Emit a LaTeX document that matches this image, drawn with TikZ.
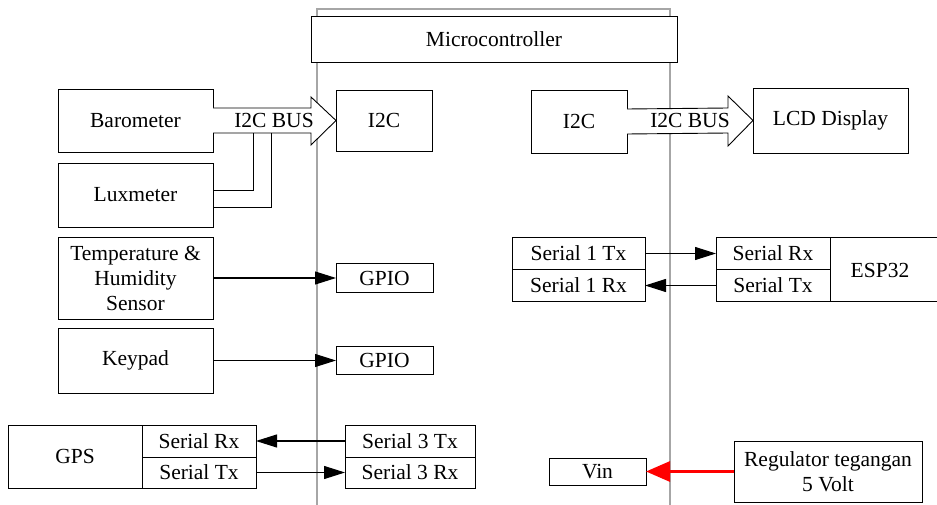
\documentclass[tikz,border=0pt]{standalone}
\usepackage{fontspec}
\setmainfont{Liberation Serif}
\usetikzlibrary{arrows.meta,calc}
\begin{document}
\begin{tikzpicture}[x=1pt,y=-1pt,
  box/.style={draw,line width=0.9pt,inner sep=0pt,outer sep=0pt,align=center,
    font=\fontsize{21.5}{25}\selectfont},
  conn/.style={line width=1.1pt,-{Triangle[length=21pt,width=13pt]}},
  busarrow/.style={draw,line width=0.9pt,fill=white},
  lbl/.style={font=\fontsize{21.5}{25}\selectfont,inner sep=0pt}]
\useasboundingbox (0,0) rectangle (937,505);
% microcontroller outline
\draw[gray!70,line width=1.4pt] (317,505) |- (670,9) -- (670,505);
\node[box,fill=white,minimum width=366pt,minimum height=46pt] (micro) at (494,39) {Microcontroller};
% left side devices
\node[box,minimum width=155pt,minimum height=63pt] (baro) at (135.5,120.5) {Barometer};
\node[box,minimum width=155pt,minimum height=64pt] (lux) at (135.5,195) {Luxmeter};
\node[box,minimum width=155pt,minimum height=82pt] (temp) at (135.5,278) {Temperature \&\\Humidity\\Sensor};
\node[box,minimum width=155pt,minimum height=65pt] (keypad) at (135.5,360.5) {Keypad};
\node[box,minimum width=134pt,minimum height=63pt] (gps) at (75,456.5) {GPS};
\node[box,minimum width=114pt,minimum height=32pt] (gpsrx) at (199,441) {Serial Rx};
\node[box,minimum width=114pt,minimum height=31pt] (gpstx) at (199,472.5) {Serial Tx};
% left microcontroller pins
\node[box,minimum width=96pt,minimum height=61pt] (i2cl) at (384,120.5) {I2C};
\node[box,minimum width=97pt,minimum height=29pt] (gpio1) at (384.5,278) {GPIO};
\node[box,minimum width=97pt,minimum height=28pt] (gpio2) at (384.5,360.5) {GPIO};
\node[box,minimum width=130pt,minimum height=32pt] (s3tx) at (410,441) {Serial 3 Tx};
\node[box,minimum width=130pt,minimum height=31pt] (s3rx) at (410,472.5) {Serial 3 Rx};
% right microcontroller pins
\node[box,minimum width=96pt,minimum height=63pt] (i2cr) at (579,121.5) {I2C};
\node[box,minimum width=133pt,minimum height=32pt] (s1tx) at (578.5,253.5) {Serial 1 Tx};
\node[box,minimum width=133pt,minimum height=32pt] (s1rx) at (578.5,285.5) {Serial 1 Rx};
\node[box,minimum width=97pt,minimum height=27pt] (vin) at (597.5,471.5) {Vin};
% right devices
\node[box,minimum width=155pt,minimum height=65pt] (lcd) at (830.5,120.5) {LCD Display};
\node[box,minimum width=114pt,minimum height=32pt] (esprx) at (773,253.5) {Serial Rx};
\node[box,minimum width=114pt,minimum height=32pt] (esptx) at (773,285.5) {Serial Tx};
\node[lbl] (esp) at (880,270) {ESP32};
\draw[line width=0.9pt] (esprx.north east) -- (945,237.5);
\draw[line width=0.9pt] (esptx.south east) -- (945,301.5);
\node[box,minimum width=188pt,minimum height=61pt] (reg) at (828,471.5) {Regulator tegangan\\5 Volt};
% I2C bus arrows
\draw[busarrow] ($(baro.east)+(0,-12.5)$) -- ($(i2cl.west)+(-25,-12.5)$) -- ($(i2cl.west)+(-25,-23.5)$)
  -- (i2cl.west) -- ($(i2cl.west)+(-25,24.5)$) -- ($(i2cl.west)+(-25,12.5)$) -- ($(baro.east)+(0,12.5)$);
\node[lbl] (busl) at (274,120) {I2C BUS};
\draw[busarrow] ($(i2cr.east)+(0,-12.5)$) -- ($(lcd.west)+(-25,-12.5)$) -- ($(lcd.west)+(-25,-24.5)$)
  -- (lcd.west) -- ($(lcd.west)+(-25,25.5)$) -- ($(lcd.west)+(-25,12.5)$) -- ($(i2cr.east)+(0,12.5)$);
\node[lbl] (busr) at (690,120) {I2C BUS};
% luxmeter bus lines
\coordinate (b1) at (253,133);
\coordinate (b2) at (271,133);
\draw[line width=0.9pt] (b1) |- ($(lux.east)+(0,-5)$);
\draw[line width=0.9pt] (b2) |- ($(lux.east)+(0,12)$);
% connectors
\draw[conn] (temp.east) -- (gpio1.west);
\draw[conn] (keypad.east) -- (gpio2.west);
\draw[conn] (s3tx.west) -- (gpsrx.east);
\draw[conn] (gpstx.east) -- (s3rx.west);
\draw[conn] (s1tx.east) -- (esprx.west);
\draw[conn] (esptx.west) -- (s1rx.east);
\draw[red,line width=3pt,-{Triangle[length=24pt,width=20pt]}] (reg.west) -- (vin.east);
\end{tikzpicture}
\end{document}
